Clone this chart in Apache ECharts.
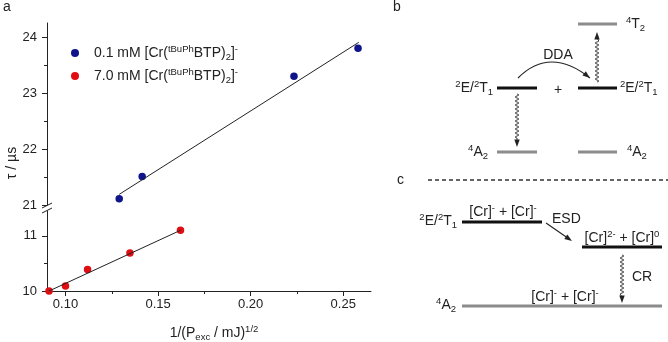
<!DOCTYPE html>
<html>
<head>
<meta charset="utf-8">
<script src="https://cdn.jsdelivr.net/npm/echarts@6.0.0/dist/echarts.min.js"></script>
<style>
  html, body { margin: 0; padding: 0; background: #fff; }
  #chart { width: 668px; height: 342px; }
</style>
</head>
<body>
<div id="chart"></div>
<script>
// panel a : lifetime vs 1/sqrt(P)
const seriesNames = ['0.1 mM', '7.0 mM'];
const blueX = [0.129, 0.1414, 0.2234, 0.258];
const blueY = [21.11, 21.51, 23.30, 23.80];
const redX = [0.0911, 0.100, 0.1119, 0.1348, 0.1621];
const redY = [10.0, 10.09, 10.39, 10.69, 11.10];
// fit lines (end points)
const blueFitX = [0.129, 0.2584];
const blueFitY = [21.19, 23.905];
const redFitX = [0.0911, 0.1621];
const redFitY = [10.0, 11.10];
// ticks
const xTicks = [0.10, 0.15, 0.20, 0.25];
const xMinor = [0.125, 0.175, 0.225];
const yTicksTop = [21, 22, 23, 24];
const yMinorTop = [21.5, 22.5, 23.5];
const yTicksBottom = [10, 11];
const yMinorBottom = [10.5];

// panels b, c : energy levels [x0, x1, energy, kind]  kind 0 black, 1 grey, 2 dashed separator
const levels = [
  [117, 157, 254, 0], [198, 237, 254, 0], [198, 237, 318, 1],
  [117, 157, 190, 1], [198, 237, 190, 1],
  [48, 288, 162, 2],
  [82, 162, 120, 0], [202, 282, 95, 0], [82, 282, 36, 1]
];
// arrows [x0, E0, x1, E1, kind, bend]  kind 0 wavy, 1 straight, 2 curved
const arrows = [
  [137, 248, 137, 195, 0, 0],
  [217, 260, 217, 310, 0, 0],
  [138, 264, 210, 264, 2, 32],
  [166, 119, 192, 101, 1, 0],
  [242, 87, 242, 39, 0, 0]
];
// labels [x, E, text, align]
const diagLabels = [
  [13, 335, 'b', 'left'],
  [113, 254, '{p|2}E/{p|2}T{d|1}', 'right'],
  [240, 254, '{p|2}E/{p|2}T{d|1}', 'left'],
  [178, 252, '+', 'center'],
  [246, 318, '{p|4}T{d|2}', 'left'],
  [108, 190, '{p|4}A{d|2}', 'right'],
  [247, 190, '{p|4}A{d|2}', 'left'],
  [178, 287, 'DDA', 'center'],
  [17, 162, 'c', 'left'],
  [77, 121, '{p|2}E/{p|2}T{d|1}', 'right'],
  [123, 130, '[Cr]{p|-} + [Cr]{p|-}', 'center'],
  [172, 123, 'ESD', 'left'],
  [242, 104, '[Cr]{p|2-} + [Cr]{p|0}', 'center'],
  [252, 65, 'CR', 'left'],
  [185, 45, '[Cr]{p|-} + [Cr]{p|-}', 'center'],
  [76, 37, '{p|4}A{d|2}', 'right']
];

const ink = '#222';
const fam = '"Liberation Sans", Arial, sans-serif';
const fs = 14;
const rich = {
  p: { fontSize: 9.5, lineHeight: 9, verticalAlign: 'top', fontFamily: fam, color: ink, fill: ink },
  d: { fontSize: 9.5, lineHeight: 9, verticalAlign: 'bottom', fontFamily: fam, color: ink, fill: ink }
};
const levelStyles = [
  { color: '#111', width: 3 },
  { color: '#8c8c8c', width: 3 },
  { color: '#333', width: 1.5, dash: [4, 3] }
];

const chart = echarts.init(document.getElementById('chart'), null, { renderer: 'canvas' });

function axisBase(extra) {
  return Object.assign({
    type: 'value',
    splitLine: { show: false },
    axisLine: { show: true, onZero: false, lineStyle: { color: ink, width: 1 } },
    axisTick: { show: true, inside: false, length: 5, lineStyle: { color: ink } },
    axisLabel: { color: ink, fontSize: 13, fontFamily: fam }
  }, extra);
}
// second axis on the same side, only for the short minor ticks
function minorAxis(extra, vals) {
  return Object.assign({
    type: 'value',
    splitLine: { show: false },
    axisLine: { show: false, onZero: false },
    axisLabel: { show: false },
    axisTick: { show: true, length: 3, customValues: vals, lineStyle: { color: ink } }
  }, extra);
}

function head(tip, dx, dy) {
  const len = 7.5, half = 2.7;
  const bx = tip[0] - dx * len, by = tip[1] - dy * len;
  return {
    type: 'polygon',
    shape: { points: [tip, [bx - dy * half, by + dx * half], [bx + dy * half, by - dx * half]] },
    style: { fill: ink }
  };
}

function renderArrow(params, api) {
  const a = api.coord([api.value(0), api.value(1)]);
  const b = api.coord([api.value(2), api.value(3)]);
  const kind = api.value(4);
  const children = [];
  if (kind === 0) {
    const dir = b[1] > a[1] ? 1 : -1;
    const endY = b[1] - dir * 9;
    const span = Math.abs(endY - a[1]);
    const n = Math.round(span * 3);
    const pts = [];
    for (let i = 0; i <= n; i++) {
      const d = span * i / n;
      pts.push([a[0] + 1.8 * Math.sin(d / 4 * 2 * Math.PI), a[1] + dir * d]);
    }
    pts.push([b[0], endY + dir * 3]);
    children.push({ type: 'polyline', shape: { points: pts }, style: { stroke: '#222', lineWidth: 0.9, fill: 'none' } });
    children.push(head(b, 0, dir));
  } else if (kind === 1) {
    const L = Math.hypot(b[0] - a[0], b[1] - a[1]);
    const dx = (b[0] - a[0]) / L, dy = (b[1] - a[1]) / L;
    children.push({ type: 'line', shape: { x1: a[0], y1: a[1], x2: b[0] - dx * 3, y2: b[1] - dy * 3 }, style: { stroke: ink, lineWidth: 1.1 } });
    children.push(head(b, dx, dy));
  } else {
    const c = api.coord([(api.value(0) + api.value(2)) / 2 - 4, api.value(1) + api.value(5)]);
    children.push({ type: 'bezierCurve', shape: { x1: a[0], y1: a[1], x2: b[0], y2: b[1], cpx1: c[0], cpy1: c[1] }, style: { stroke: ink, lineWidth: 1.1, fill: 'none' } });
    const L = Math.hypot(b[0] - c[0], b[1] - c[1]);
    children.push(head(b, (b[0] - c[0]) / L, (b[1] - c[1]) / L));
  }
  return { type: 'group', children: children };
}

const option = {
  animation: false,
  backgroundColor: '#fff',
  grid: [
    { left: 47, top: 23, width: 324, height: 182 },
    { left: 47, top: 211, width: 324, height: 80 },
    { left: 380, top: 0, width: 288, height: 342 }
  ],
  xAxis: [
    { type: 'value', gridIndex: 0, min: 0.09, max: 0.265, show: false },
    axisBase({
      gridIndex: 1, min: 0.09, max: 0.265, position: 'bottom',
      axisTick: { show: true, length: 5, customValues: xTicks, lineStyle: { color: ink } },
      axisLabel: { color: ink, fontSize: 13, fontFamily: fam, margin: 7, customValues: xTicks, formatter: v => v.toFixed(2) }
    }),
    minorAxis({ gridIndex: 1, min: 0.09, max: 0.265, position: 'bottom' }, xMinor),
    { type: 'value', gridIndex: 2, min: 0, max: 288, show: false }
  ],
  yAxis: [
    axisBase({
      gridIndex: 0, min: 21, max: 24.25, position: 'left',
      axisTick: { show: true, length: 5, customValues: yTicksTop, lineStyle: { color: ink } },
      axisLabel: { color: ink, fontSize: 13, fontFamily: fam, margin: 10, customValues: yTicksTop }
    }),
    minorAxis({ gridIndex: 0, min: 21, max: 24.25, position: 'left' }, yMinorTop),
    axisBase({
      gridIndex: 1, min: 10, max: 11.45, position: 'left',
      axisTick: { show: true, length: 5, customValues: yTicksBottom, lineStyle: { color: ink } },
      axisLabel: { color: ink, fontSize: 13, fontFamily: fam, margin: 10, customValues: yTicksBottom }
    }),
    minorAxis({ gridIndex: 1, min: 10, max: 11.45, position: 'left' }, yMinorBottom),
    { type: 'value', gridIndex: 2, min: 0, max: 342, show: false }
  ],
  legend: {
    data: seriesNames,
    orient: 'vertical',
    left: 66, top: 39,
    itemWidth: 28, itemHeight: 8, itemGap: 5,
    icon: 'circle',
    formatter: n => n + ' [Cr({p|tBuPh}BTP){d|2}]{p|-}',
    textStyle: { color: ink, fontSize: fs, lineHeight: 18, fontFamily: fam, rich: rich }
  },
  graphic: [
    { type: 'text', left: 3, top: 0, style: { text: 'a', fill: ink, font: '14px ' + fam } },
    {
      type: 'text', x: 12, y: 163, rotation: Math.PI / 2,
      style: { text: 'τ / µs', fill: ink, font: '14px ' + fam, align: 'center', verticalAlign: 'middle' }
    },
    {
      type: 'text', x: 214, y: 333,
      style: {
        text: '1/(P{d|exc} / mJ){p|1/2}', fill: ink, fontSize: fs, fontFamily: fam, lineHeight: 18,
        align: 'center', verticalAlign: 'middle', rich: rich
      }
    },
    // axis break marks
    { type: 'line', shape: { x1: 42, y1: 208, x2: 52, y2: 203 }, style: { stroke: ink, lineWidth: 1 } },
    { type: 'line', shape: { x1: 42, y1: 213, x2: 52, y2: 208 }, style: { stroke: ink, lineWidth: 1 } }
  ],
  series: [
    {
      name: seriesNames[0], type: 'scatter', xAxisIndex: 0, yAxisIndex: 0,
      symbolSize: 7.5, clip: false, itemStyle: { color: '#10148a', opacity: 1 },
      data: blueX.map((x, i) => [x, blueY[i]])
    },
    {
      name: seriesNames[1], type: 'scatter', xAxisIndex: 1, yAxisIndex: 2,
      symbolSize: 7.5, clip: false, itemStyle: { color: '#e00d12', opacity: 1 },
      data: redX.map((x, i) => [x, redY[i]])
    },
    {
      type: 'line', xAxisIndex: 0, yAxisIndex: 0, symbol: 'none', clip: false,
      lineStyle: { color: ink, width: 1 },
      data: blueFitX.map((x, i) => [x, blueFitY[i]])
    },
    {
      type: 'line', xAxisIndex: 1, yAxisIndex: 2, symbol: 'none', clip: false,
      lineStyle: { color: ink, width: 1 },
      data: redFitX.map((x, i) => [x, redFitY[i]])
    },
    {
      type: 'custom', xAxisIndex: 3, yAxisIndex: 4,
      encode: { x: [0, 1], y: 2 },
      data: levels,
      renderItem: (params, api) => {
        const a = api.coord([api.value(0), api.value(2)]);
        const b = api.coord([api.value(1), api.value(2)]);
        const st = levelStyles[api.value(3)];
        return {
          type: 'line',
          shape: { x1: a[0], y1: a[1], x2: b[0], y2: b[1] },
          style: { stroke: st.color, lineWidth: st.width, lineDash: st.dash || null }
        };
      }
    },
    {
      type: 'custom', xAxisIndex: 3, yAxisIndex: 4,
      encode: { x: [0, 2], y: [1, 3] },
      data: arrows,
      renderItem: renderArrow
    },
    {
      type: 'custom', xAxisIndex: 3, yAxisIndex: 4,
      encode: { x: 0, y: 1 },
      data: diagLabels.map((l, i) => [l[0], l[1], i]),
      renderItem: (params, api) => {
        const l = diagLabels[api.value(2)];
        const p = api.coord([api.value(0), api.value(1)]);
        return {
          type: 'text', x: p[0], y: p[1],
          style: {
            text: l[2], fill: ink, fontSize: fs, fontFamily: fam, lineHeight: 18,
            align: l[3], verticalAlign: 'middle', rich: rich
          }
        };
      }
    }
  ]
};

chart.setOption(option);
</script>
</body>
</html>
